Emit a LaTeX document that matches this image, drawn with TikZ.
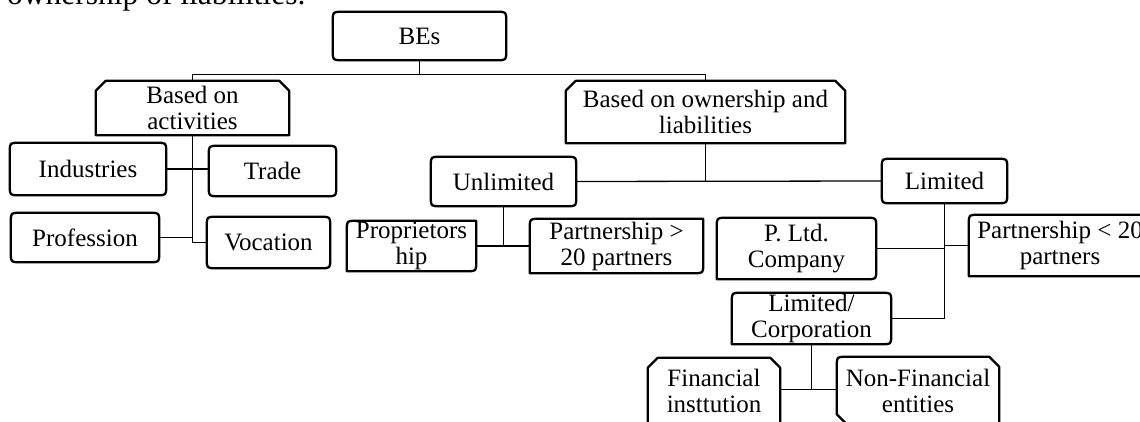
\documentclass[tikz,border=0pt]{standalone}
\usepackage{fontspec}
\setmainfont{Liberation Serif}
\usetikzlibrary{calc}
\def\rr{9}
\def\cc{10}
% corner pieces (clockwise, y axis points down)
\newcommand\TLs[1]{(#1.north west)}
\newcommand\TLr[1]{($(#1.north west)+(0,\rr)$) .. controls (#1.north west) .. ($(#1.north west)+(\rr,0)$)}
\newcommand\TLc[1]{($(#1.north west)+(0,\cc)$) -- ($(#1.north west)+(\cc,0)$)}
\newcommand\TRs[1]{(#1.north east)}
\newcommand\TRr[1]{($(#1.north east)+(-\rr,0)$) .. controls (#1.north east) .. ($(#1.north east)+(0,\rr)$)}
\newcommand\TRc[1]{($(#1.north east)+(-\cc,0)$) -- ($(#1.north east)+(0,\cc)$)}
\newcommand\BRs[1]{(#1.south east)}
\newcommand\BRr[1]{($(#1.south east)+(0,-\rr)$) .. controls (#1.south east) .. ($(#1.south east)+(-\rr,0)$)}
\newcommand\BLs[1]{(#1.south west)}
\newcommand\BLr[1]{($(#1.south west)+(\rr,0)$) .. controls (#1.south west) .. ($(#1.south west)+(0,-\rr)$)}
\newcommand\BLc[1]{($(#1.south west)+(\cc,0)$) -- ($(#1.south west)+(0,-\cc)$)}
\newcommand\shp[5]{\draw[boxline] #2{#1} -- #3{#1} -- #4{#1} -- #5{#1} -- cycle;}
\tikzset{
  txt/.style={inner sep=0pt, align=center, font=\fontsize{25}{26}\selectfont},
  boxline/.style={line width=2.3pt, line join=round},
  conn/.style={line width=1.3pt},
}
\begin{document}
\begin{tikzpicture}[x=1pt,y=-1pt]
\useasboundingbox (0,0) rectangle (1140,422);
\clip (0,0) rectangle (1140,422);
% heading text cut at top
\node[inner sep=0pt, anchor=base west, font=\fontsize{31.5}{33}\selectfont] (head) at (7,5) {ownership of liabilities.};
% nodes
\node[txt, minimum width=173pt, minimum height=48pt] (be) at (419.5,36) {BEs};
\node[txt, minimum width=193pt, minimum height=54pt] (act) at (192.5,108) {Based on\\activities};
\node[txt, minimum width=279pt, minimum height=62pt] (own) at (705.5,112) {Based on ownership and\\liabilities};
\node[txt, minimum width=156pt, minimum height=52pt] (ind) at (88,169) {Industries};
\node[txt, minimum width=127pt, minimum height=50pt] (trd) at (272.5,171) {Trade};
\node[txt, minimum width=148pt, minimum height=49pt] (pro) at (85,237.5) {Profession};
\node[txt, minimum width=123pt, minimum height=51pt] (voc) at (268.5,242.5) {Vocation};
\node[txt, minimum width=145pt, minimum height=49pt] (unl) at (503.5,181.5) {Unlimited};
\node[txt, minimum width=125pt, minimum height=44pt] (lim) at (944.5,181) {Limited};
\node[txt, minimum width=129pt, minimum height=50pt] (prop) at (411.5,246) {Proprietors\\hip};
\node[txt, minimum width=173pt, minimum height=54pt] (pg20) at (616.5,246) {Partnership >\\20 partners};
\node[txt, minimum width=159pt, minimum height=61pt] (pltd) at (796.5,248.5) {P. Ltd.\\Company};
\node[txt, minimum width=182pt, minimum height=61pt] (pl20) at (1060,245.5) {Partnership < 20\\partners};
\node[txt, minimum width=159pt, minimum height=51pt] (corp) at (811.5,318.5) {Limited/\\Corporation};
\node[txt, minimum width=132pt, minimum height=66pt] (fin) at (714,391) {Financial\\insttution};
\node[txt, minimum width=162pt, minimum height=67pt] (nfin) at (918,390.5) {Non-Financial\\entities};
% box outlines
\shp{be}{\TLr}{\TRr}{\BRr}{\BLr}
\shp{act}{\TLc}{\TRc}{\BRs}{\BLs}
\shp{own}{\TLc}{\TRc}{\BRs}{\BLs}
\shp{ind}{\TLr}{\TRr}{\BRr}{\BLr}
\shp{trd}{\TLr}{\TRr}{\BRr}{\BLr}
\shp{pro}{\TLr}{\TRr}{\BRr}{\BLr}
\shp{voc}{\TLr}{\TRr}{\BRr}{\BLr}
\shp{unl}{\TLr}{\TRr}{\BRr}{\BLr}
\shp{lim}{\TLr}{\TRr}{\BRr}{\BLr}
\shp{prop}{\TLr}{\TRs}{\BRr}{\BLs}
\shp{pg20}{\TLr}{\TRs}{\BRr}{\BLs}
\shp{pltd}{\TLr}{\TRr}{\BRr}{\BLs}
\shp{pl20}{\TLr}{\TRs}{\BRs}{\BLs}
\shp{corp}{\TLr}{\TRr}{\BRr}{\BLs}
\shp{fin}{\TLc}{\TRc}{\BRs}{\BLs}
\shp{nfin}{\TLr}{\TRc}{\BRs}{\BLc}
% connectors
\draw[conn] (be.south) -- ($(be.south)+(0,14)$);
\draw[conn] (act.north) -- ++(0,-6) -| (own.north);
\draw[conn] (act.south) |- (voc.west);
\draw[conn] (ind.east) -- (ind.east -| trd.west);
\draw[conn] (pro.east) -- (pro.east -| act.south);
\draw[conn] (own.south) -- (own.south |- unl.east);
\draw[conn] (unl.east) -- (lim.west);
\draw[conn] (unl.south) -- (unl.south |- prop.east);
\draw[conn] (prop.east) -- (pg20.west);
\draw[conn] (lim.south) |- (corp.east);
\draw[conn] (pltd.east) -- (pltd.east -| lim.south);
\draw[conn] (pl20.west) -- (pl20.west -| lim.south);
\coordinate (cj) at ($(corp.south)+(0,45)$);
\draw[conn] (corp.south) -- (cj);
\draw[conn] (fin.east |- cj) -- (cj) -- (nfin.west |- cj);
\end{tikzpicture}
\end{document}
